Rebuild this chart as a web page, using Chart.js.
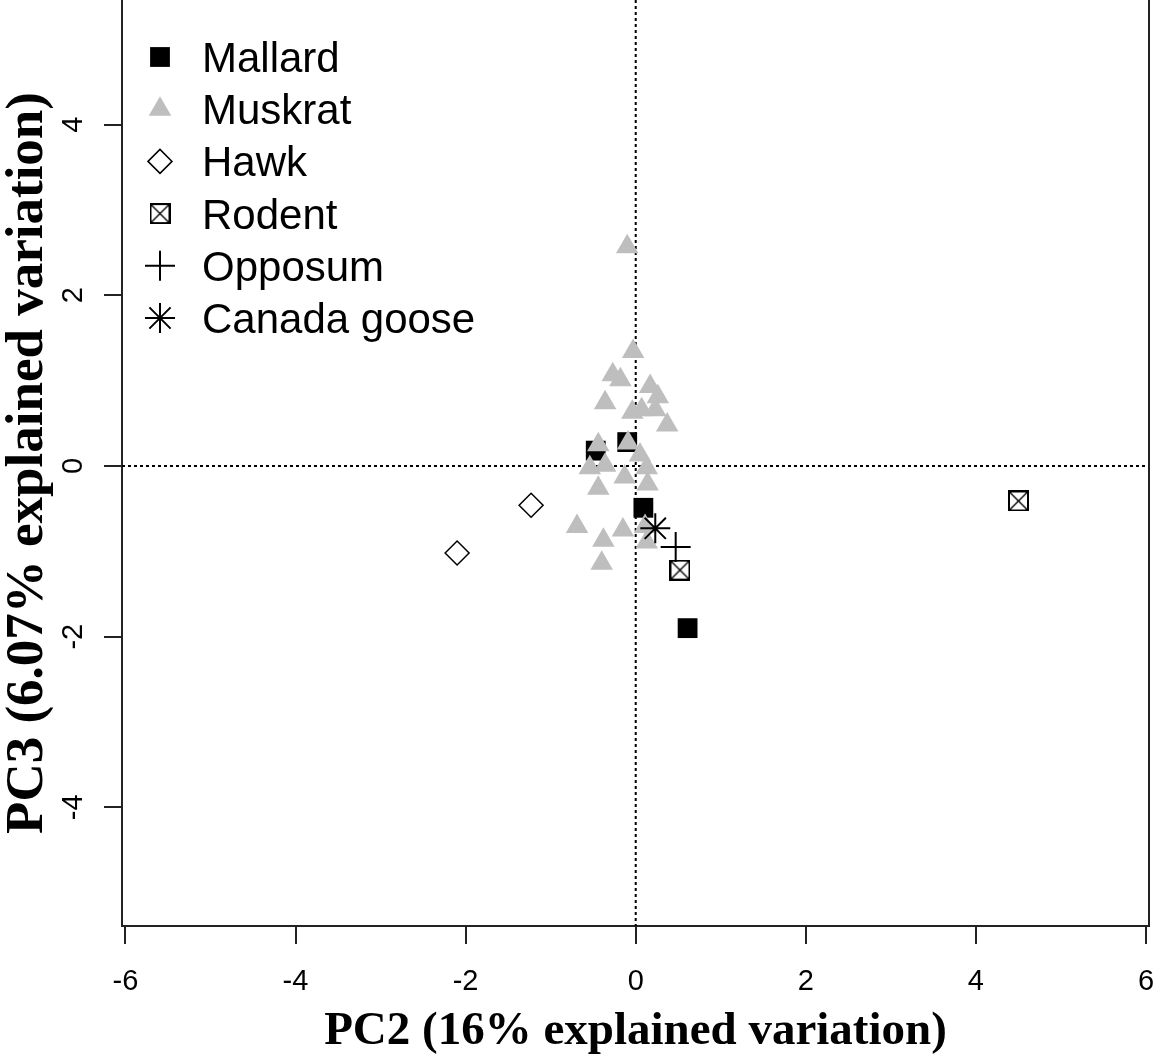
<!DOCTYPE html>
<html>
<head>
<meta charset="utf-8">
<script src="https://cdn.jsdelivr.net/npm/chart.js@4.4.1/dist/chart.umd.min.js"></script>
<style>
  html, body { margin: 0; padding: 0; background: #fff; }
  canvas { display: block; }
</style>
</head>
<body>
<canvas id="pca" width="1157" height="1059"></canvas>
<script>
// tick labels
const xTicks = [-6, -4, -2, 0, 2, 4, 6];
const yTicks = [-4, -2, 0, 2, 4];

// species scores, PC2 (x) and PC3 (y)
const mallardX = [-0.47, -0.10, 0.09, 0.61];
const mallardY = [0.18, 0.28, -0.49, -1.90];

const muskratX = [-0.10, -0.03, -0.27, -0.18, -0.36, 0.17, 0.26, -0.04, 0.07, 0.23, 0.37, -0.44, -0.09,
  0.05, -0.54, -0.36, -0.13, 0.13, -0.44, 0.14, -0.69, -0.38, -0.40, -0.15, 0.11, 0.13];
const muskratY = [2.57, 1.34, 1.07, 1.01, 0.74, 0.93, 0.81, 0.63, 0.66, 0.66, 0.48, 0.25, 0.27,
  0.13, -0.02, 0.01, -0.13, -0.02, -0.26, -0.21, -0.71, -0.87, -1.14, -0.75, -0.71, -0.89];

const hawkX = [-1.23, -2.10];
const hawkY = [-0.46, -1.02];

const rodentX = [0.52, 4.50];
const rodentY = [-1.22, -0.41];

const opposumX = [0.47];
const opposumY = [-0.95];

const gooseX = [0.23];
const gooseY = [-0.73];

const pts = (xs, ys) => xs.map((x, i) => ({ x: x, y: ys[i] }));

// square with an X inside (R pch 7)
function boxCross(size) {
  const c = document.createElement("canvas");
  c.width = size;
  c.height = size;
  const g = c.getContext("2d");
  g.strokeStyle = "#000";
  g.lineWidth = 2;
  g.strokeRect(1, 1, size - 2, size - 2);
  g.lineWidth = 1.4;
  g.beginPath();
  g.moveTo(2, 2); g.lineTo(size - 2, size - 2);
  g.moveTo(size - 2, 2); g.lineTo(2, size - 2);
  g.stroke();
  return c;
}

const sansFont = '"Liberation Sans", Arial, sans-serif';
const serifFont = '"Liberation Serif", "Times New Roman", serif';

const zeroLines = {
  id: "zeroLines",
  beforeDatasetsDraw(chart) {
    const { ctx, chartArea, scales } = chart;
    const x0 = scales.x.getPixelForValue(0);
    const y0 = scales.y.getPixelForValue(0);
    ctx.save();
    ctx.strokeStyle = "#000";
    ctx.lineWidth = 2;
    ctx.setLineDash([3, 3]);
    ctx.beginPath();
    ctx.moveTo(x0, chartArea.top);
    ctx.lineTo(x0, chartArea.bottom);
    ctx.moveTo(chartArea.left, y0);
    ctx.lineTo(chartArea.right, y0);
    ctx.stroke();
    ctx.restore();
  }
};

const frameAndLabels = {
  id: "frameAndLabels",
  afterDraw(chart) {
    const { ctx, chartArea, scales } = chart;
    ctx.save();
    // right edge of the box
    ctx.strokeStyle = "#222";
    ctx.lineWidth = 2;
    ctx.beginPath();
    ctx.moveTo(chartArea.right, chartArea.top);
    ctx.lineTo(chartArea.right, chartArea.bottom + 1);
    ctx.stroke();

    // rotated y tick labels
    ctx.fillStyle = "#000";
    ctx.font = "29px " + sansFont;
    ctx.textAlign = "center";
    ctx.textBaseline = "middle";
    yTicks.forEach(v => {
      const py = scales.y.getPixelForValue(v);
      ctx.save();
      ctx.translate(chartArea.left - 48, py);
      ctx.rotate(-Math.PI / 2);
      ctx.fillText(String(v), 0, 0);
      ctx.restore();
    });

    // legend in the top left corner
    ctx.font = "42px " + sansFont;
    ctx.textAlign = "left";
    ctx.textBaseline = "alphabetic";
    chart.data.datasets.forEach((ds, i) => {
      const ly = 57 + i * 52.2;
      const lx = chartArea.left + 38;
      ctx.fillStyle = ds.pointBackgroundColor;
      ctx.strokeStyle = ds.pointBorderColor;
      ctx.lineWidth = ds.pointBorderWidth;
      Chart.helpers.drawPoint(ctx, {
        pointStyle: ds.pointStyle,
        radius: ds.pointRadius,
        rotation: 0,
        borderWidth: ds.pointBorderWidth
      }, lx, ly);
      ctx.fillStyle = "#000";
      ctx.fillText(ds.label, chartArea.left + 80, ly + 15);
    });
    ctx.restore();
  }
};

new Chart(document.getElementById("pca"), {
  type: "scatter",
  data: {
    datasets: [
      {
        label: "Mallard", data: pts(mallardX, mallardY), order: 6,
        pointStyle: "rect", pointRadius: 14,
        pointBackgroundColor: "#000", pointBorderColor: "#000", pointBorderWidth: 0
      },
      {
        label: "Muskrat", data: pts(muskratX, muskratY), order: 5,
        pointStyle: "triangle", pointRadius: 13,
        pointBackgroundColor: "#bebebe", pointBorderColor: "#bebebe", pointBorderWidth: 0
      },
      {
        label: "Hawk", data: pts(hawkX, hawkY), order: 4,
        pointStyle: "rectRot", pointRadius: 12,
        pointBackgroundColor: "#fff", pointBorderColor: "#000", pointBorderWidth: 1.5
      },
      {
        label: "Rodent", data: pts(rodentX, rodentY), order: 3,
        pointStyle: boxCross(21), pointRadius: 11,
        pointBackgroundColor: "rgba(0,0,0,0)", pointBorderColor: "#000", pointBorderWidth: 0
      },
      {
        label: "Opposum", data: pts(opposumX, opposumY), order: 2,
        pointStyle: "cross", pointRadius: 15,
        pointBackgroundColor: "#000", pointBorderColor: "#000", pointBorderWidth: 2
      },
      {
        label: "Canada goose", data: pts(gooseX, gooseY), order: 1,
        pointStyle: "star", pointRadius: 15,
        pointBackgroundColor: "#000", pointBorderColor: "#000", pointBorderWidth: 2
      }
    ]
  },
  options: {
    responsive: false,
    animation: false,
    events: [],
    layout: { autoPadding: false, padding: { left: 0, right: 8, top: 0, bottom: 0 } },
    plugins: {
      legend: { display: false },
      tooltip: { enabled: false }
    },
    scales: {
      x: {
        type: "linear",
        min: -6.04,
        max: 6.035,
        afterBuildTicks: s => { s.ticks = xTicks.map(v => ({ value: v })); },
        afterFit: s => {
          s.height = 133;
          s.paddingLeft = 0;
          s.paddingRight = 0;
        },
        ticks: {
          color: "#000",
          font: { family: sansFont, size: 29 },
          padding: 21,
          maxRotation: 0,
          callback: v => String(v)
        },
        grid: { drawOnChartArea: false, drawTicks: true, tickLength: 18, lineWidth: 2, color: "#222" },
        border: { display: true, color: "#222", width: 2 },
        title: {
          display: true,
          text: "PC2 (16% explained variation)",
          color: "#000",
          font: { family: serifFont, size: 47, weight: "bold", lineHeight: 1 },
          padding: { top: 0, bottom: 4 }
        }
      },
      y: {
        type: "linear",
        min: -5.39,
        max: 5.46,
        afterBuildTicks: s => { s.ticks = yTicks.map(v => ({ value: v })); },
        afterFit: s => {
          s.width = 122;
          s.paddingTop = 0;
          s.paddingBottom = 0;
        },
        ticks: { display: false },
        grid: { drawOnChartArea: false, drawTicks: true, tickLength: 18, lineWidth: 2, color: "#222" },
        border: { display: true, color: "#222", width: 2 },
        title: {
          display: true,
          text: "PC3 (6.07% explained variation)",
          color: "#000",
          font: { family: serifFont, size: 53, weight: "bold", lineHeight: 1 },
          padding: { top: 2, bottom: 0 }
        }
      }
    }
  },
  plugins: [zeroLines, frameAndLabels]
});
</script>
</body>
</html>
